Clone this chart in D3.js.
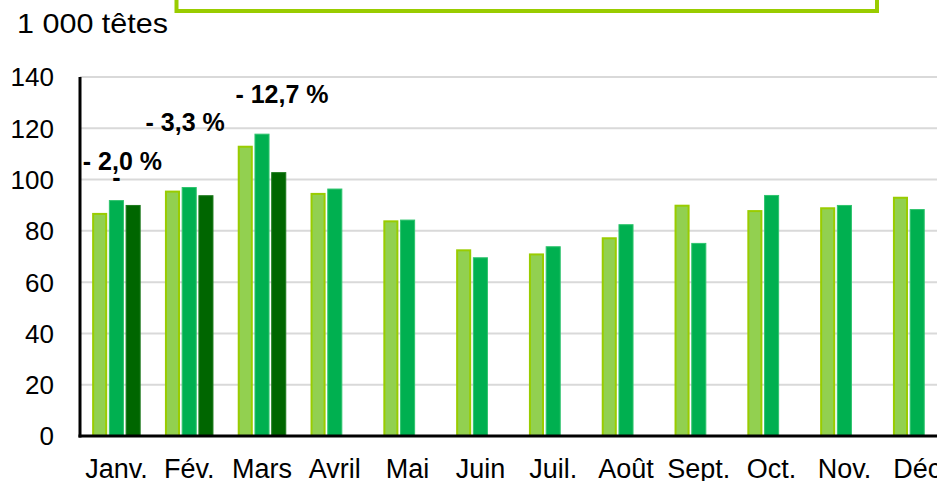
<!DOCTYPE html>
<html>
<head>
<meta charset="utf-8">
<script src="https://cdn.jsdelivr.net/npm/d3@7"></script>
<style>
  body { margin: 0; background: #fff; }
  svg { display: block; font-family: Arial, "Liberation Sans", sans-serif; }
</style>
</head>
<body>
<div id="chart"></div>
<script>
// months on the x axis
var months = ["Janv.", "Fév.", "Mars", "Avril", "Mai", "Juin", "Juil.", "Août", "Sept.", "Oct.", "Nov.", "Déc"];
// three years, 1 000 têtes (last year only Jan-Mar)
var serieA = [87, 95.7, 113.2, 94.8, 84.1, 72.8, 71.2, 77.5, 90.2, 88.1, 89.2, 93.3];
var serieB = [92, 97.1, 117.9, 96.5, 84.4, 69.7, 74.0, 82.6, 75.3, 94.0, 90.1, 88.5];
var serieC = [90.1, 93.9, 102.9, null, null, null, null, null, null, null, null, null];
var seriesKeys = ["a", "b", "c"];
var yTicks = [0, 20, 40, 60, 80, 100, 120, 140];
// evolution labels
var evoLabels = ["- 2,0 %", "- 3,3 %", "- 12,7 %"];
var evoMonths = ["Janv.", "Fév.", "Mars"];

var W = 937, H = 481;
var plot = {left: 80, top: 77, bottom: 436, right: 80 + 12 * 72.8};

var svg = d3.select("#chart").append("svg")
    .attr("width", W)
    .attr("height", H);

var x = d3.scaleBand()
    .domain(months)
    .range([plot.left, plot.right])
    .paddingInner(1 / 3)
    .paddingOuter(1 / 6);

var xs = d3.scaleBand()
    .domain(seriesKeys)
    .range([0, x.bandwidth()])
    .paddingInner(0.1);

var y = d3.scaleLinear()
    .domain([0, 140])
    .range([plot.bottom, plot.top]);

var fills = {a: "#92d050", b: "#00b050", c: "#006600"};
var strokes = {a: "#99cc00", b: "#2fc46e", c: "#1d7a1d"};
var widths = {a: 2, b: 1, c: 1};

// gridlines
svg.append("g").selectAll("line")
    .data(yTicks.filter(function(d) { return d > 0; }))
  .enter().append("line")
    .attr("x1", plot.left)
    .attr("x2", W)
    .attr("y1", function(d) { return y(d); })
    .attr("y2", function(d) { return y(d); })
    .style("stroke", "#d9d9d9")
    .style("stroke-width", 2);

// y tick labels
svg.append("g").selectAll("text")
    .data(yTicks)
  .enter().append("text")
    .attr("x", 54)
    .attr("y", function(d) { return y(d); })
    .attr("dy", "0.36em")
    .attr("text-anchor", "end")
    .style("font-size", "26px")
    .style("fill", "#000")
    .text(function(d) { return d; });

// bars
var rows = months.map(function(m, i) {
  return {month: m, a: serieA[i], b: serieB[i], c: serieC[i]};
});

var groups = svg.append("g").selectAll("g")
    .data(rows)
  .enter().append("g")
    .attr("transform", function(d) { return "translate(" + x(d.month) + ",0)"; });

groups.selectAll("rect")
    .data(function(d) {
      return seriesKeys.map(function(k) { return {key: k, value: d[k]}; })
        .filter(function(e) { return e.value != null; });
    })
  .enter().append("rect")
    .attr("x", function(d) { return xs(d.key) + widths[d.key] / 2; })
    .attr("width", function(d) { return xs.bandwidth() - widths[d.key]; })
    .attr("y", function(d) { return y(d.value) + widths[d.key] / 2; })
    .attr("height", function(d) { return y(0) - y(d.value) - widths[d.key] / 2; })
    .style("fill", function(d) { return fills[d.key]; })
    .style("stroke", function(d) { return strokes[d.key]; })
    .style("stroke-width", function(d) { return widths[d.key]; });

// axes lines
svg.append("line")
    .attr("x1", plot.left).attr("x2", plot.left)
    .attr("y1", y(140)).attr("y2", y(0) + 1.5)
    .style("stroke", "#000").style("stroke-width", 3);
svg.append("line")
    .attr("x1", plot.left - 1.5).attr("x2", W)
    .attr("y1", y(0)).attr("y2", y(0))
    .style("stroke", "#000").style("stroke-width", 3);

// x labels
svg.append("g").selectAll("text")
    .data(months)
  .enter().append("text")
    .attr("x", function(d) { return x(d) + x.bandwidth() / 2; })
    .attr("y", 478)
    .attr("text-anchor", "middle")
    .style("font-size", "27px")
    .style("fill", "#000")
    .text(function(d) { return d; });

// evolution labels (offset from the group centre, height in chart units)
var evoDx = [6, -4, 20];
var evoLevel = [103.6, 119, 129.7];
svg.append("g").selectAll("text")
    .data(evoLabels)
  .enter().append("text")
    .attr("x", function(d, i) { return x(evoMonths[i]) + x.bandwidth() / 2 + evoDx[i]; })
    .attr("y", function(d, i) { return y(evoLevel[i]); })
    .attr("text-anchor", "middle")
    .style("font-size", "25px")
    .style("font-weight", "bold")
    .style("fill", "#000")
    .text(function(d) { return d; });

// stray dash under the january label
svg.append("text")
    .attr("x", x("Janv.") + x.bandwidth() / 2)
    .attr("y", y(103.6) + 16)
    .attr("text-anchor", "middle")
    .style("font-size", "25px")
    .style("font-weight", "bold")
    .text("-");

// unit
svg.append("text")
    .attr("x", 17)
    .attr("y", 33)
    .attr("textLength", 151)
    .attr("lengthAdjust", "spacingAndGlyphs")
    .style("font-size", "28px")
    .style("fill", "#000")
    .text("1 000 têtes");

// framed box at top (content out of view)
svg.append("rect")
    .attr("x", 176.5)
    .attr("y", -30)
    .attr("width", 700.5)
    .attr("height", 41)
    .style("fill", "none")
    .style("stroke", "#99cc00")
    .style("stroke-width", 4);
</script>
</body>
</html>
